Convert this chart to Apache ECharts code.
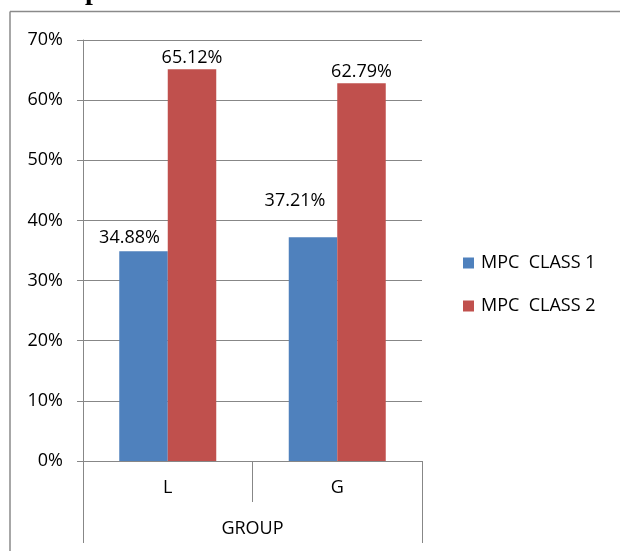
<!DOCTYPE html>
<html>
<head>
<meta charset="utf-8">
<title>MPC class by group</title>
<script src="https://cdn.jsdelivr.net/npm/echarts@6/dist/echarts.min.js"></script>
<style>
  html, body { margin: 0; padding: 0; background: #fff; }
  #chart { width: 620px; height: 551px; }
</style>
</head>
<body>
<div id="chart"></div>
<script>
// Category and series data
const categories = ['L', 'G'];
const groupLabel = ['GROUP'];
const seriesNames = ['MPC  CLASS 1', 'MPC  CLASS 2'];
const class1 = [34.88, 37.21];
const class2 = [65.12, 62.79];
const yMin = 0;
const yMax = 70;
const yStep = 10;

const FONT = '"Open Sans", "Noto Sans", sans-serif';
const AXIS_GRAY = '#878787';
const BLUE = '#4F81BD';
const RED = '#C0504D';

// per-bar nudges for the value labels of the first series
const class1LabelOffsets = [[-14, -1], [-18, -24]];

const pct = (p) => p.value.toFixed(2) + '%';

const chart = echarts.init(document.getElementById('chart'), null, { renderer: 'canvas' });

chart.setOption({
  animation: false,
  backgroundColor: '#fff',
  textStyle: { fontFamily: FONT },
  grid: { left: 83, top: 40, width: 339, height: 421, containLabel: false },
  legend: {
    orient: 'vertical',
    left: 463,
    top: 254,
    padding: 0,
    itemWidth: 11,
    itemHeight: 11,
    itemGap: 25,
    icon: 'rect',
    selectedMode: false,
    textStyle: { fontFamily: FONT, fontSize: 18, color: '#000', padding: [0, 0, 0, 2] },
    data: seriesNames
  },
  xAxis: [
    {
      type: 'category',
      data: categories,
      position: 'bottom',
      axisLine: { show: true, lineStyle: { color: AXIS_GRAY, width: 1 } },
      axisTick: { show: true, interval: 0, length: 41, lineStyle: { color: AXIS_GRAY, width: 1 } },
      axisLabel: { margin: 18, fontFamily: FONT, fontSize: 18, color: '#000' },
      splitLine: { show: false }
    },
    {
      type: 'category',
      data: groupLabel,
      position: 'bottom',
      offset: 0,
      axisLine: { show: true, lineStyle: { color: AXIS_GRAY, width: 1 } },
      axisTick: { show: true, interval: 0, length: 82, lineStyle: { color: AXIS_GRAY, width: 1 } },
      axisLabel: { margin: 59, fontFamily: FONT, fontSize: 18, color: '#000' },
      splitLine: { show: false }
    }
  ],
  yAxis: {
    type: 'value',
    min: yMin,
    max: yMax,
    interval: yStep,
    axisLine: { show: true, lineStyle: { color: AXIS_GRAY, width: 1 } },
    axisTick: { show: true, length: 6, lineStyle: { color: AXIS_GRAY, width: 1 } },
    axisLabel: { margin: 20, fontFamily: FONT, fontSize: 18, color: '#000', formatter: '{value}%' },
    splitLine: { show: true, lineStyle: { color: AXIS_GRAY, width: 1 } }
  },
  series: [
    {
      name: seriesNames[0],
      type: 'bar',
      xAxisIndex: 0,
      barWidth: 48.5,
      barGap: '0%',
      itemStyle: { color: BLUE },
      data: class1.map((v, i) => ({
        value: v,
        label: { offset: class1LabelOffsets[i] }
      })),
      label: {
        show: true,
        position: 'top',
        distance: 3,
        fontFamily: FONT,
        fontSize: 18,
        color: '#000',
        formatter: pct
      }
    },
    {
      name: seriesNames[1],
      type: 'bar',
      xAxisIndex: 0,
      barWidth: 48.5,
      barGap: '0%',
      itemStyle: { color: RED },
      data: class2,
      label: {
        show: true,
        position: 'top',
        distance: 2,
        fontFamily: FONT,
        fontSize: 18,
        color: '#000',
        formatter: pct
      }
    }
  ],
  graphic: [
    // outer chart frame (left and top edges)
    { type: 'line', silent: true, shape: { x1: 10, y1: 11.5, x2: 620, y2: 11.5 }, style: { stroke: '#8a8a8a', lineWidth: 1.5 } },
    { type: 'line', silent: true, shape: { x1: 10, y1: 11.5, x2: 10, y2: 551 }, style: { stroke: '#8a8a8a', lineWidth: 1.5 } },
    // tail of the heading line above the frame
    { type: 'text', silent: true, left: 85, top: -22, style: { text: 'p', font: 'bold 28px "Liberation Serif", serif', fill: '#000' } }
  ]
});
</script>
</body>
</html>
